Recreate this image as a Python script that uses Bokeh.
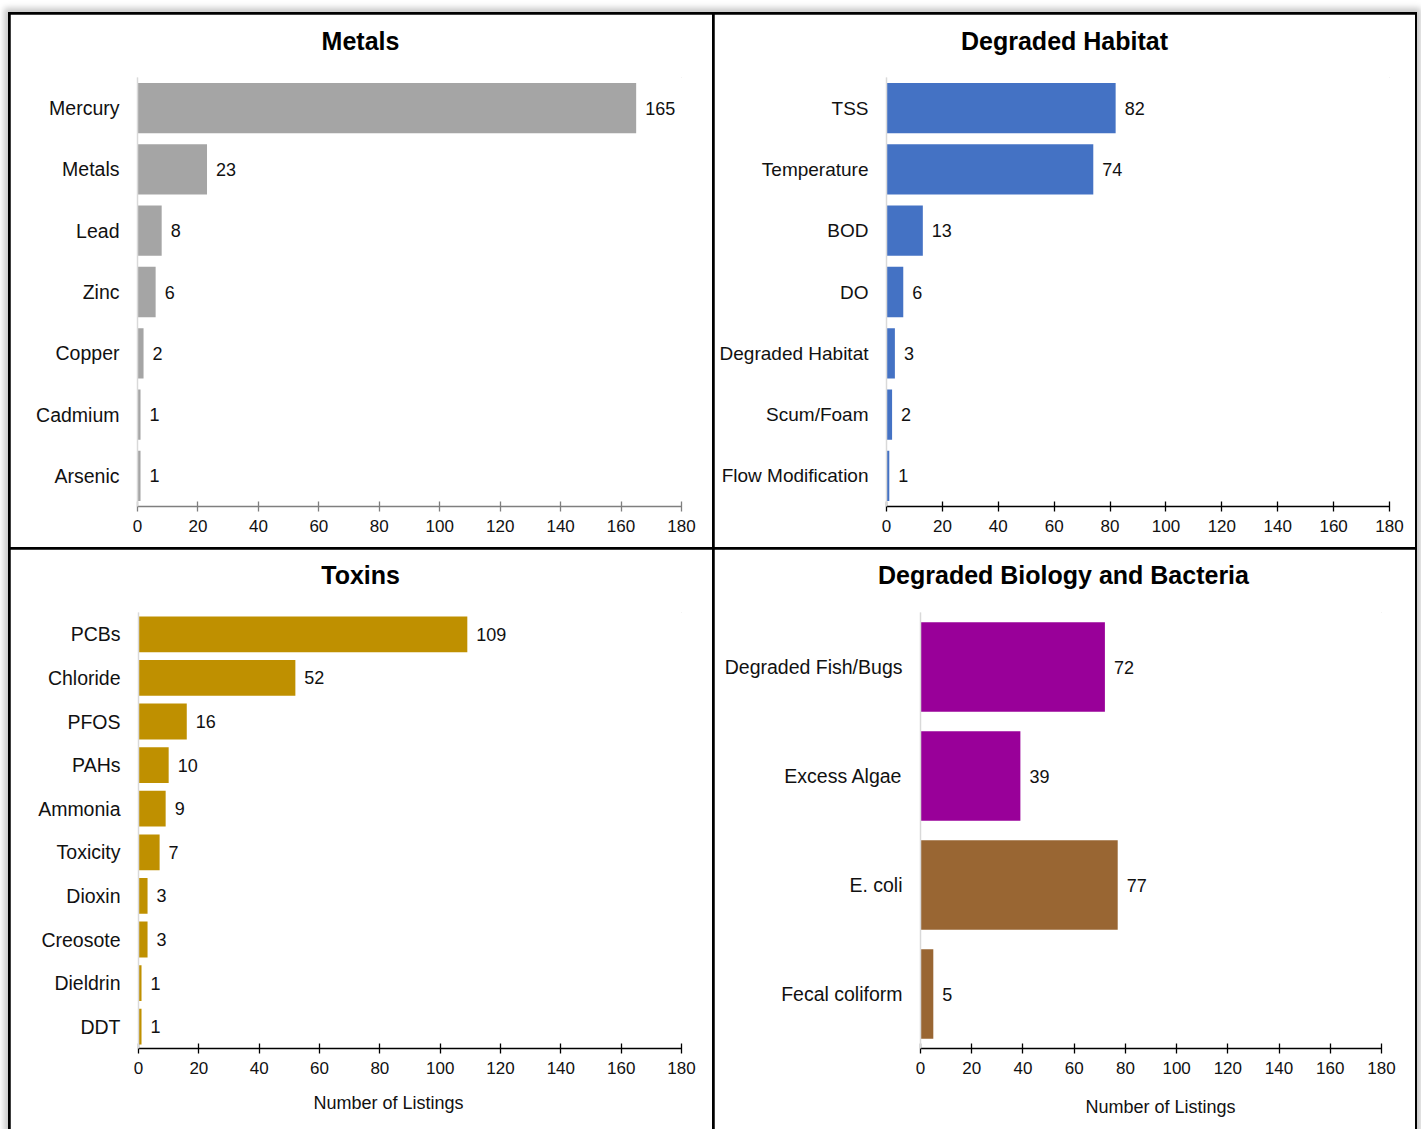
from bokeh.plotting import figure
from bokeh.models import FactorRange, Range1d, FixedTicker, ColumnDataSource, LabelSet, Title
from bokeh.layouts import row, column
from bokeh.core.properties import value
from bokeh.embed import file_html
from bokeh.resources import INLINE

# ---- data -------------------------------------------------------------
metals_cats = ["Mercury", "Metals", "Lead", "Zinc", "Copper", "Cadmium", "Arsenic"]
metals_vals = [165, 23, 8, 6, 2, 1, 1]

habitat_cats = ["TSS", "Temperature", "BOD", "DO", "Degraded Habitat", "Scum/Foam", "Flow Modification"]
habitat_vals = [82, 74, 13, 6, 3, 2, 1]

toxins_cats = ["PCBs", "Chloride", "PFOS", "PAHs", "Ammonia", "Toxicity", "Dioxin", "Creosote", "Dieldrin", "DDT"]
toxins_vals = [109, 52, 16, 10, 9, 7, 3, 3, 1, 1]

bio_cats = ["Degraded Fish/Bugs", "Excess Algae", "E. coli", "Fecal coliform"]
bio_vals = [72, 39, 77, 5]

x_ticks = [0, 20, 40, 60, 80, 100, 120, 140, 160, 180]
x_max = 180
x_title = "Number of Listings"

GRAY = "#a5a5a5"
BLUE = "#4472c4"
GOLD = "#bf9000"
PURPLE = "#990099"
BROWN = "#996633"

FONT = "Liberation Sans"
TXT = "#111111"

# Arial / Liberation Sans advance widths (per 1 em) used to centre headings
_REG = {"N": .722, "u": .556, "m": .833, "b": .556, "e": .556, "r": .333, " ": .278,
        "o": .556, "f": .278, "L": .556, "i": .222, "s": .5, "t": .278, "n": .556, "g": .556}
_BOLD = {"D": .722, "e": .556, "g": .611, "r": .389, "a": .556, "d": .611, " ": .278,
         "H": .722, "b": .611, "i": .278, "t": .333, "B": .722, "o": .611, "l": .278,
         "y": .556, "n": .611, "c": .556, "M": .833, "s": .556, "T": .611, "x": .556}


def text_width(s, size, table):
    return sum(table.get(ch, .556) for ch in s) * size


def gap(px):
    # thin blank strip that pushes the next heading away from the frame
    return Title(text=" ", text_font_size="1px", standoff=px, text_color="white")


def panel(title, cats, vals, colors, width, height, left, right, top, bottom,
          axis_color="#000000", title_cx=None, title_gap=20,
          xlabel_cx=None, xlabel_gap=16, cat_font="19.5px"):
    src = ColumnDataSource(dict(c=cats, v=vals, color=colors, t=[str(v) for v in vals]))
    p = figure(width=width, height=height,
               y_range=FactorRange(*reversed(cats)), x_range=Range1d(0, x_max),
               output_backend="svg", toolbar_location=None,
               min_border_left=left, min_border_right=right,
               min_border_top=top, min_border_bottom=bottom,
               background_fill_color="white", border_fill_color="white")
    p.outline_line_color = "white"
    p.outline_line_width = 1
    p.xgrid.grid_line_color = None
    p.ygrid.grid_line_color = None

    p.hbar(y="c", left=0, right="v", height=0.82, fill_color="color",
           line_color=None, source=src)
    p.add_layout(LabelSet(x="v", y="c", text="t", source=src, x_offset=9,
                          text_baseline="middle", text_font=value(FONT),
                          text_font_size="18px", text_color=TXT))

    # heading centred over the whole panel rather than over the plot frame
    tw = text_width(title, 25, _BOLD)
    p.add_layout(gap(title_gap), "above")
    p.add_layout(Title(text=title, align="left", offset=title_cx - tw / 2 - left,
                       standoff=0, text_font=FONT, text_font_size="25px",
                       text_font_style="bold", text_color="#000000"), "above")

    xa = p.xaxis[0]
    xa.ticker = FixedTicker(ticks=x_ticks)
    xa.axis_line_color = axis_color
    xa.axis_line_width = 1.5
    xa.major_tick_line_color = axis_color
    xa.major_tick_line_width = 1.3
    xa.major_tick_in = 5
    xa.major_tick_out = 5
    xa.minor_tick_line_color = None
    xa.major_label_standoff = 8
    xa.major_label_text_font = FONT
    xa.major_label_text_font_size = "17px"
    xa.major_label_text_color = TXT

    ya = p.yaxis[0]
    ya.axis_line_color = "#d9d9d9"
    ya.axis_line_width = 1.5
    ya.major_tick_line_color = None
    ya.minor_tick_line_color = None
    ya.major_tick_in = 0
    ya.major_tick_out = 0
    ya.major_label_standoff = 18
    ya.major_label_text_font = FONT
    ya.major_label_text_font_size = cat_font
    ya.major_label_text_color = TXT

    if xlabel_cx is not None:
        lw = text_width(x_title, 18, _REG)
        p.add_layout(gap(xlabel_gap), "below")
        p.add_layout(Title(text=x_title, align="left", offset=xlabel_cx - lw / 2 - left,
                           standoff=0, text_font=FONT, text_font_size="18px",
                           text_font_style="normal", text_color=TXT), "below")
    return p


p1 = panel("Metals", metals_cats, metals_vals, [GRAY] * len(metals_vals),
           702, 533, 127, 31, 63, 41, axis_color="#7f7f7f", title_cx=350)
p2 = panel("Degraded Habitat", habitat_cats, habitat_vals, [BLUE] * len(habitat_vals),
           701, 533, 172, 26, 63, 41, title_cx=350, cat_font="19px")
p3 = panel("Toxins", toxins_cats, toxins_vals, [GOLD] * len(toxins_vals),
           702, 580, 128, 31, 63, 81, title_cx=351, title_gap=21,
           xlabel_cx=378, xlabel_gap=11)
p4 = panel("Degraded Biology and Bacteria", bio_cats, bio_vals,
           [PURPLE, PURPLE, BROWN, BROWN],
           701, 580, 206, 34, 63, 76, title_cx=349, title_gap=21,
           xlabel_cx=446, xlabel_gap=15)

root = column(row(p1, p2, spacing=2), row(p3, p4, spacing=2), spacing=2,
              margin=(14, 0, 0, 10),
              styles={"background-color": "#000000",
                      "outline": "2px solid #000000",
                      "box-shadow": "0 0 6px 6px #c8c8c8"})

open("out.html", "w").write(file_html(root, INLINE))
